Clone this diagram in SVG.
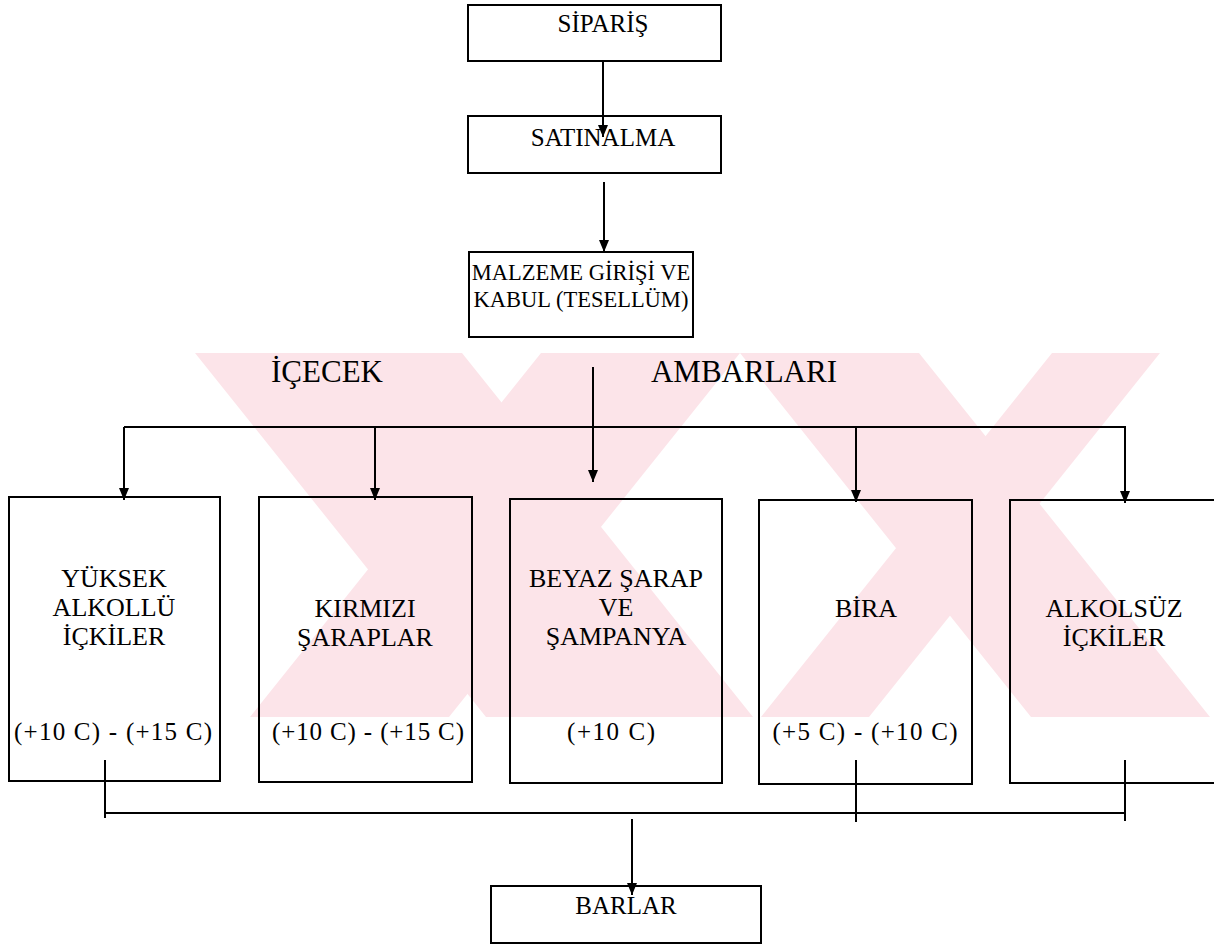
<svg xmlns="http://www.w3.org/2000/svg" width="1214" height="947" viewBox="0 0 1214 947">
<defs>
<style>
.bx{fill:none;stroke:#000;stroke-width:2}
.ln{fill:none;stroke:#000;stroke-width:2}
.ar{marker-end:url(#ah)}
text{font-family:"Liberation Serif","Times New Roman",serif;fill:#000;text-anchor:middle}
.t25{font-size:25px}
.t26{font-size:26px}
.t22{font-size:22.5px}
.t31{font-size:31px}
.wm{fill:#fce4e9}
</style>
<marker id="ah" viewBox="0 0 12 10" refX="12" refY="5" markerWidth="12" markerHeight="10" orient="auto" markerUnits="userSpaceOnUse">
<path d="M0,0 L12,5 L0,10 z" fill="#000"/>
</marker>
<clipPath id="wmclip"><rect x="0" y="353" width="1214" height="364"/></clipPath>
</defs>
<rect width="1214" height="947" fill="#fff"/>
<g id="watermark" clip-path="url(#wmclip)">
<polygon class="wm" points="195,353 462,353 753,717 486,717"/>
<polygon class="wm" points="541,353 740,353 449,717 250,717"/>
<polygon class="wm" points="740,353 919,353 1210,717 1031,717"/>
<polygon class="wm" points="1052,353 1160,353 869,717 761,717"/>
</g>
<g id="connectors">
<path class="ln ar" d="M603,61 V137"/>
<path class="ln ar" d="M604,182 V252"/>
<path class="ln ar" d="M593,367 V482"/>
<path class="ln" d="M124,427 H1126"/>
<path class="ln ar" d="M124,427 V500"/>
<path class="ln ar" d="M375,427 V500"/>
<path class="ln ar" d="M856,427 V502"/>
<path class="ln ar" d="M1125,427 V503"/>
<path class="ln" d="M105,760 V818"/>
<path class="ln" d="M856,760 V822"/>
<path class="ln" d="M1125,760 V821"/>
<path class="ln" d="M105,813 H1125"/>
<path class="ln ar" d="M632,819 V895"/>
</g>
<g id="siparis"><rect class="bx" x="468" y="5" width="253" height="56"/><text class="t25" x="603" y="32">SİPARİŞ</text></g>
<g id="satinalma"><rect class="bx" x="468" y="116" width="253" height="57"/><text class="t25" x="603" y="146">SATINALMA</text></g>
<g id="malzeme"><rect class="bx" x="469" y="252" width="224" height="85"/><text class="t22" x="581" y="280">MALZEME GİRİŞİ VE</text><text class="t22" x="581" y="307">KABUL (TESELLÜM)</text></g>
<g id="title"><text class="t31" x="327" y="382">İÇECEK</text><text class="t31" x="744" y="382">AMBARLARI</text></g>
<g id="yuksek"><rect class="bx" x="9" y="497" width="211" height="284"/><text class="t26" x="114" y="587">YÜKSEK</text><text class="t26" x="114" y="616">ALKOLLÜ</text><text class="t26" x="114" y="645">İÇKİLER</text><text class="t25" x="113" y="740" textLength="198" lengthAdjust="spacing">(+10 C) - (+15 C)</text></g>
<g id="kirmizi"><rect class="bx" x="259" y="497" width="213" height="285"/><text class="t26" x="365" y="617">KIRMIZI</text><text class="t26" x="365" y="646">ŞARAPLAR</text><text class="t25" x="368" y="740" textLength="192" lengthAdjust="spacing">(+10 C) - (+15 C)</text></g>
<g id="beyaz"><rect class="bx" x="510" y="499" width="212" height="284"/><text class="t26" x="616" y="587">BEYAZ ŞARAP</text><text class="t26" x="616" y="616">VE</text><text class="t26" x="616" y="645">ŞAMPANYA</text><text class="t25" x="611" y="740" textLength="88" lengthAdjust="spacing">(+10 C)</text></g>
<g id="bira"><rect class="bx" x="759" y="500" width="213" height="284"/><text class="t26" x="866" y="617">BİRA</text><text class="t25" x="865" y="740" textLength="185" lengthAdjust="spacing">(+5 C) - (+10 C)</text></g>
<g id="alkolsuz"><path class="bx" d="M1214,500 H1010 V783 H1214"/><text class="t26" x="1114" y="617">ALKOLSÜZ</text><text class="t26" x="1114" y="646">İÇKİLER</text></g>
<g id="barlar"><rect class="bx" x="491" y="886" width="270" height="57"/><text class="t25" x="626" y="914">BARLAR</text></g>
</svg>
